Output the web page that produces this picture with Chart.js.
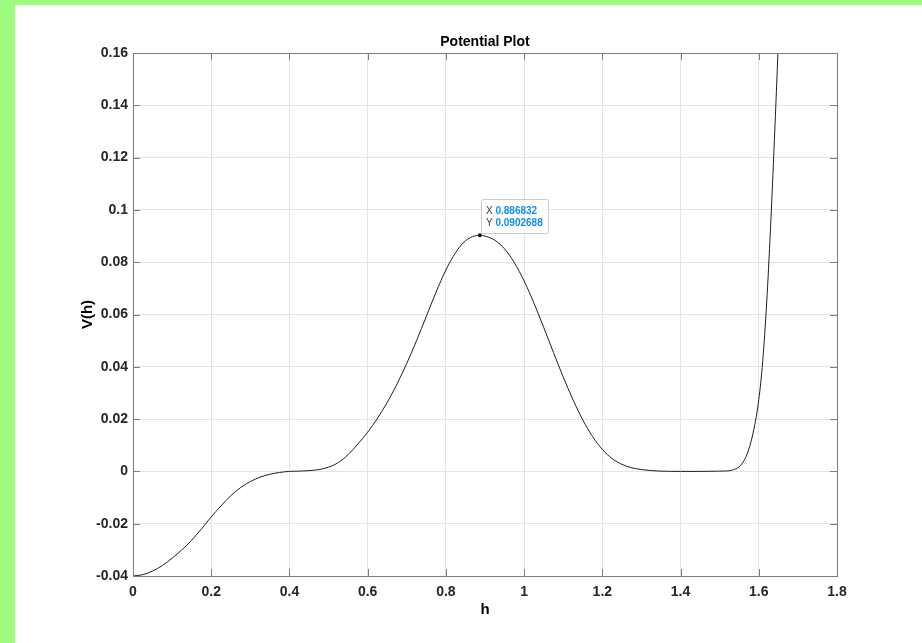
<!DOCTYPE html>
<html>
<head>
<meta charset="utf-8">
<title>Potential Plot</title>
<script src="https://cdn.jsdelivr.net/npm/chart.js@4.4.1/dist/chart.umd.min.js"></script>
<style>
  html, body { margin: 0; padding: 0; }
  body { width: 922px; height: 643px; background: #9dfb7d; overflow: hidden; position: relative; }
  #wrap { position: absolute; left: 15px; top: 5px; width: 907px; height: 638px; background: #fff; }
  canvas { display: block; }
</style>
</head>
<body>
<div id="wrap"><canvas id="potential" width="907" height="638"></canvas></div>
<script>
// ─── Data ───────────────────────────────────────────────────

const hValues = [
  0, 0.025, 0.05, 0.075, 0.1, 0.125, 0.15, 0.175, 0.2, 0.225,
  0.25, 0.275, 0.3, 0.325, 0.35, 0.375, 0.4, 0.425, 0.45, 0.475,
  0.5, 0.525, 0.55, 0.575, 0.6, 0.625, 0.65, 0.675, 0.7, 0.725,
  0.75, 0.775, 0.8, 0.825, 0.85, 0.875, 0.886832, 0.9, 0.925, 0.95,
  0.975, 1.0, 1.025, 1.05, 1.075, 1.1, 1.125, 1.15, 1.175, 1.2,
  1.225, 1.25, 1.275, 1.3, 1.35, 1.4, 1.45, 1.5, 1.52, 1.53,
  1.54, 1.55, 1.56, 1.57, 1.58, 1.59, 1.6, 1.61, 1.62, 1.63,
  1.64, 1.65, 1.66,
];
const vValues = [
  -0.04, -0.0395, -0.0381, -0.036, -0.0332, -0.03, -0.0263, -0.022, -0.0174, -0.0132,
  -0.0093, -0.0062, -0.0039, -0.0022, -0.0011, -0.0004, 0, 0.0001, 0.0003, 0.0007,
  0.0016, 0.0034, 0.0064, 0.0105, 0.015, 0.0203, 0.0264, 0.0334, 0.0413, 0.05,
  0.0593, 0.0686, 0.077, 0.0837, 0.0882, 0.0901, 0.0902688, 0.09, 0.0884, 0.0851,
  0.0798, 0.0728, 0.0644, 0.0551, 0.0455, 0.0361, 0.0274, 0.0197, 0.0133, 0.0084,
  0.0049, 0.0027, 0.0014, 0.0007, 0.0001, 0, 0, 0.0001, 0.0002, 0.0004,
  0.0009, 0.0018, 0.0036, 0.0066, 0.0113, 0.018, 0.0274, 0.042, 0.064, 0.093,
  0.127, 0.164, 0.202,
];

const xTicks = [0, 0.2, 0.4, 0.6, 0.8, 1, 1.2, 1.4, 1.6, 1.8];
const yTicks = [-0.04, -0.02, 0, 0.02, 0.04, 0.06, 0.08, 0.1, 0.12, 0.14, 0.16];

const tipH = 0.886832;
const tipV = 0.0902688;

// ─── Style ──────────────────────────────────────────────────

const FONT = '"Liberation Sans", Arial, Helvetica, sans-serif';
const AXIS_COLOR = '#7c7c7c';
const TICK_LEN = 7;

// ─── Plugins ────────────────────────────────────────────────

// MATLAB-like box with inward tick marks on all four sides, plus the title
const matlabFrame = {
  id: 'matlabFrame',
  afterDatasetsDraw(chart) {
    const { ctx, chartArea: a, scales: { x, y } } = chart;
    ctx.save();
    ctx.strokeStyle = AXIS_COLOR;
    ctx.lineWidth = 1;
    ctx.beginPath();
    xTicks.forEach(v => {
      const px = Math.round(x.getPixelForValue(v)) + 0.5;
      ctx.moveTo(px, a.bottom);
      ctx.lineTo(px, a.bottom - TICK_LEN);
      ctx.moveTo(px, a.top);
      ctx.lineTo(px, a.top + TICK_LEN);
    });
    yTicks.forEach(v => {
      const py = Math.round(y.getPixelForValue(v)) + 0.5;
      ctx.moveTo(a.left, py);
      ctx.lineTo(a.left + TICK_LEN, py);
      ctx.moveTo(a.right, py);
      ctx.lineTo(a.right - TICK_LEN, py);
    });
    ctx.stroke();
    ctx.strokeRect(Math.round(a.left) + 0.5, Math.round(a.top) + 0.5,
      Math.round(a.right - a.left), Math.round(a.bottom - a.top));

    // title centred over the axes box
    ctx.fillStyle = '#000';
    ctx.font = `bold 14px ${FONT}`;
    ctx.textAlign = 'center';
    ctx.textBaseline = 'middle';
    ctx.fillText('Potential Plot', (a.left + a.right) / 2, a.top - 11);
    ctx.restore();
  },
};

// data tip box next to the marked maximum
const dataTip = {
  id: 'dataTip',
  afterDraw(chart) {
    const { ctx, scales: { x, y } } = chart;
    const px = x.getPixelForValue(tipH);
    const py = y.getPixelForValue(tipV);
    const bx = Math.round(px) + 1.5;
    const by = Math.round(py) - 35.5;
    const bw = 67;
    const bh = 34;

    ctx.save();
    ctx.beginPath();
    ctx.roundRect(bx, by, bw, bh, 2);
    ctx.fillStyle = 'rgba(255,255,255,0.96)';
    ctx.fill();
    ctx.strokeStyle = '#c9ccd1';
    ctx.lineWidth = 1;
    ctx.stroke();

    ctx.textBaseline = 'middle';
    ctx.textAlign = 'left';
    const rows = [['X', String(tipH)], ['Y', String(tipV)]];
    rows.forEach(([k, val], i) => {
      const ty = by + 12 + i * 12;
      ctx.font = `10px ${FONT}`;
      ctx.fillStyle = '#3a3a3a';
      ctx.fillText(k, bx + 4.5, ty);
      const kw = ctx.measureText(k + ' ').width;
      ctx.font = `bold 10px ${FONT}`;
      ctx.fillStyle = '#108ee9';
      ctx.fillText(val, bx + 4.5 + kw, ty);
    });
    ctx.restore();
  },
};

// ─── Chart ──────────────────────────────────────────────────

const curve = hValues.map((h, i) => ({ x: h, y: vValues[i] }));

new Chart(document.getElementById('potential'), {
  type: 'line',
  data: {
    datasets: [
      {
        data: curve,
        borderColor: '#1e1e1e',
        borderWidth: 1,
        pointRadius: 0,
        cubicInterpolationMode: 'monotone',
        fill: false,
      },
      {
        data: [{ x: tipH, y: tipV }],
        showLine: false,
        pointRadius: 2,
        pointBackgroundColor: '#000',
        pointBorderColor: '#000',
        pointBorderWidth: 0,
      },
    ],
  },
  options: {
    responsive: false,
    animation: false,
    events: [],
    layout: { padding: { left: 0, top: 48, right: 85, bottom: 0 } },
    plugins: {
      legend: { display: false },
      tooltip: { enabled: false },
      title: { display: false },
    },
    scales: {
      x: {
        type: 'linear',
        min: 0,
        max: 1.8,
        afterBuildTicks: scale => { scale.ticks = xTicks.map(v => ({ value: v })); },
        afterFit: scale => { scale.height = 67; },
        grid: { color: '#e4e4e4', drawTicks: false },
        border: { display: false },
        ticks: {
          autoSkip: false,
          maxRotation: 0,
          padding: 8,
          color: '#262626',
          font: { family: FONT, size: 14, weight: 'bold' },
          callback: v => String(+v.toFixed(1)),
        },
        title: {
          display: true,
          text: 'h',
          color: '#000',
          font: { family: FONT, size: 15, weight: 'bold', lineHeight: 1.2 },
          padding: { top: 0, bottom: 24 },
        },
      },
      y: {
        type: 'linear',
        min: -0.04,
        max: 0.16,
        afterBuildTicks: scale => { scale.ticks = yTicks.map(v => ({ value: v })); },
        afterFit: scale => { scale.width = 118; },
        grid: { color: '#e4e4e4', drawTicks: false },
        border: { display: false },
        ticks: {
          autoSkip: false,
          padding: 5,
          color: '#262626',
          font: { family: FONT, size: 14, weight: 'bold' },
          callback: v => String(+v.toFixed(2)),
        },
        title: {
          display: true,
          text: 'V(h)',
          color: '#000',
          font: { family: FONT, size: 15, weight: 'bold', lineHeight: 1.2 },
          padding: { top: 64, bottom: 0 },
        },
      },
    },
  },
  plugins: [matlabFrame, dataTip],
});
</script>
</body>
</html>
